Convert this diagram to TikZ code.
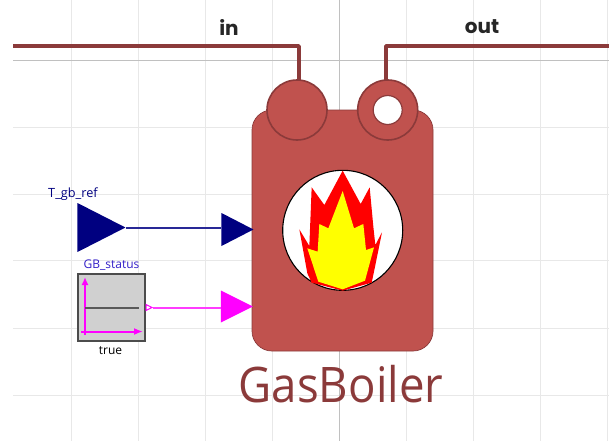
\documentclass[tikz,border=0pt]{standalone}
\usepackage{fontspec}
\setmainfont{Open Sans}
\newfontfamily\portfont{Poppins}
\usetikzlibrary{shapes.geometric,arrows.meta}
\definecolor{bodyred}{RGB}{192,82,78}
\definecolor{darkred}{RGB}{139,58,58}
\definecolor{gridlight}{RGB}{232,232,232}
\definecolor{gridmid}{RGB}{192,192,192}
\definecolor{navyblue}{RGB}{0,0,128}
\definecolor{sigpink}{RGB}{255,0,255}
\definecolor{wirepink}{RGB}{255,60,255}
\definecolor{wirenavy}{RGB}{40,40,150}
\definecolor{boxgray}{RGB}{208,208,208}
\definecolor{flamered}{RGB}{255,0,0}
\definecolor{flameyellow}{RGB}{255,255,0}
\tikzset{
  gridline/.style={draw=gridlight,line width=1pt},
  axisline/.style={draw=gridmid,line width=1pt},
  fluidwire/.style={draw=darkred,line width=3.6pt,line join=round},
  port/.style={circle,draw=darkred,line width=1.6pt,fill=bodyred,minimum size=60pt,inner sep=0pt},
  tip/.style={isosceles triangle,isosceles triangle stretches,shape border rotate=0,anchor=apex,inner sep=0pt,draw=none},
  portname/.style={font=\portfont\bfseries\fontsize{20}{20}\selectfont,text=black!85},
  smalllabel/.style={font=\fontsize{12}{12}\selectfont},
  signal/.style={line width=2pt},
}
\begin{document}
\begin{tikzpicture}[x=1pt,y=-1pt]
\useasboundingbox (0,0) rectangle (609,444);
\fill[white] (0,0) rectangle (609,444);
% grid
\foreach \gx in {71.5,138.5,205.5,272,406,473,540,607}
  \draw[gridline] (\gx,0) -- (\gx,441);
\foreach \gy in {127,194,260,328,395}
  \draw[gridline] (13,\gy) -- (609,\gy);
\draw[axisline] (339,0) -- (339,441);
\draw[axisline] (13,60.5) -- (609,60.5);
% body
\node[draw=darkred,line width=0.7pt,fill=bodyred,rounded corners=20pt,minimum width=181pt,minimum height=241pt,inner sep=0pt] (body) at (342.5,230.5) {};
% burner
\node[circle,draw=black,line width=1.1pt,fill=white,minimum size=120pt,inner sep=0pt] (burner) at (342.7,230.3) {};
\begin{scope}[shift={(270,160)},x=0.33333pt,y=-0.33333pt]
\fill[flamered] (218,32) -- (272,132) -- (299,82) -- (310,200) -- (316,255) -- (336,217) -- (312,335) -- (305,368) -- (218,392) -- (125,368) -- (112,340) -- (88,208) -- (118,258) -- (125,82) -- (163,135) -- cycle;
\fill[flameyellow] (218,93) -- (252,205) -- (280,192) -- (288,270) -- (312,262) -- (285,362) -- (218,388) -- (145,365) -- (112,265) -- (143,275) -- (148,192) -- (175,205) -- cycle;
\end{scope}
% ports
\node[port] (inport) at (297,110) {};
\node[port] (outport) at (387.7,110) {};
\node[circle,draw=darkred,line width=1.2pt,fill=white,minimum size=29pt,inner sep=0pt] (outhole) at (387.7,110) {};
\coordinate (inend) at (13,46);
\coordinate (outend) at (609,46);
\draw[fluidwire] (inend) -- (299,46) -- (299,80);
\draw[fluidwire] (outend) -- (386,46) -- (386,80);
\node[portname] (inlabel) at (229,27) {in};
\node[portname] (outlabel) at (482,27) {out};
% T_gb_ref
\node[tip,fill=navyblue,minimum width=49pt,minimum height=48pt] (tref) at (126,227.5) {};
\node[tip,fill=navyblue,minimum width=33pt,minimum height=32pt] (tin) at (254,229.5) {};
\draw[wirenavy,line width=2pt] (tref.apex) -- (tin.lower side |- tref.apex);
\node[font=\fontsize{12.7}{13}\selectfont,text=navyblue] (treflabel) at (73,194) {T\_gb\_ref};
% GB_status
\node[draw=black!70,line width=1.4pt,fill=boxgray,minimum size=67pt,inner sep=0pt] (status) at (111.5,307.5) {};
\draw[sigpink,signal,-{Latex[length=8pt,width=7pt]}] (85,335) -- (85,277);
\draw[sigpink,signal,-{Latex[length=9pt,width=7pt]}] (81,331.5) -- (143,331.5);
\draw[black!65,line width=2pt] (85,307.5) -- (139,307.5);
\node[isosceles triangle,isosceles triangle stretches,shape border rotate=0,anchor=lower side,draw=sigpink,fill=white,line width=1pt,minimum width=6pt,minimum height=6pt,inner sep=0pt] (statusout) at (145.5,307.5) {};
\node[tip,fill=sigpink,minimum width=32pt,minimum height=32pt] (statusin) at (253.5,306.5) {};
\draw[wirepink,line width=2pt] (statusout.apex) -- (statusin.lower side |- statusout.apex);
\node[smalllabel,text={rgb,255:red,50;green,30;blue,200}] (statuslabel) at (111.5,265) {GB\_status};
\node[smalllabel,text=black] (truelabel) at (110.5,351) {true};
% name
\node[text=darkred,font=\fontsize{49}{49}\selectfont,xscale=0.93,transform shape] (name) at (341,384) {GasBoiler};
\end{tikzpicture}
\end{document}
